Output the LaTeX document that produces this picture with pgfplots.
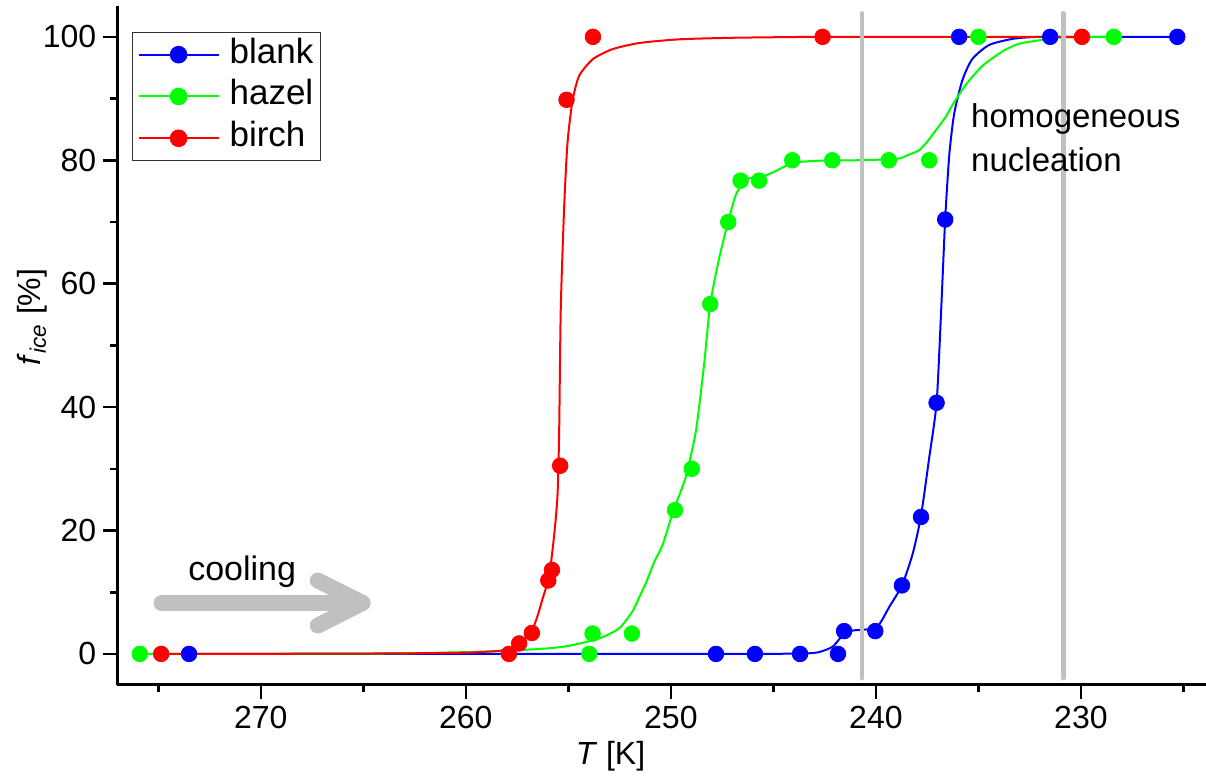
\documentclass[border=0pt]{standalone}
\usepackage{fontspec}
\setmainfont{Liberation Sans}
\usepackage{pgfplots}
\pgfplotsset{compat=1.18}
\usetikzlibrary{calc}

\definecolor{hz}{RGB}{0,255,0}
\definecolor{gl}{RGB}{192,192,192}

% measured points
\pgfplotstableread{
T f
273.5 0
247.8 0
245.9 0
243.7 0
241.85 0
241.55 3.7
240.03 3.7
238.73 11.1
237.80 22.2
237.04 40.7
236.62 70.4
235.94 100
231.5 100
225.3 100
}\blankpts
\pgfplotstableread{
T f
275.9 0
253.98 0
253.82 3.3
251.9 3.3
249.8 23.3
248.98 30
248.08 56.7
247.2 70
246.6 76.7
245.7 76.7
244.08 80
242.13 80
239.37 80
237.4 80
235.0 100
228.4 100
}\hazelpts
\pgfplotstableread{
T f
274.86 0
257.9 0
257.4 1.7
256.78 3.4
255.98 11.9
255.8 13.6
255.4 30.5
255.09 89.8
253.8 100
242.6 100
229.95 100
}\birchpts

% fitted curves
\pgfplotstableread{
T f
273.5 0
250 0
245 0.02
244 0.05
243.3 0.1
242.76 0.3
242.1 1.2
241.55 3.3
241.1 3.8
240.68 3.9
240.0 4.2
239.7 5.5
239.35 7.6
238.73 11.1
238.2 16.3
237.8 22.4
237.4 31.8
237.04 40.7
236.83 54.7
236.62 70.5
236.42 80.9
236.18 87.6
235.78 93.0
235.3 96.4
234.47 98.7
233.3 99.7
232.4 99.95
231.5 100
225.3 100
}\blankfit
\pgfplotstableread{
T f
275.9 0
265 0.05
262 0.15
260 0.3
258.4 0.45
257.7 0.55
256 0.9
255 1.3
253.8 2.2
253.2 2.9
252.5 4.2
251.87 6.9
251.5 9.5
251.2 11.6
250.8 15
250.4 17.7
249.9 23.0
249.5 26.5
249.24 29.1
248.78 36.1
248.38 46.9
248.08 56.7
247.64 64.2
247.2 70.1
246.83 74.4
246.34 76.9
245.7 77.2
245.04 78.0
244.1 79.5
243 79.9
241 80.0
239.8 80.1
238.86 80.3
238.4 80.9
237.9 81.6
237.5 83
237.07 84.9
236.6 87
236.26 89.0
235.6 92.3
234.8 95.3
233.8 97.7
233.0 98.9
231.7 99.6
230.9 99.9
228.4 100
}\hazelfit
\pgfplotstableread{
T f
274.86 0
268 0.03
265 0.06
262 0.12
260 0.2
259.35 0.3
258.37 0.5
257.73 1.1
257.16 2.2
256.75 4.0
256.5 6.2
256.26 8.9
255.94 12.6
255.7 19.0
255.53 25.7
255.45 35.8
255.37 56.0
255.2 72.8
255.04 82.9
254.8 89.6
254.47 93.7
253.8 96.4
252.85 98.0
251.55 99.0
249.6 99.6
247 99.85
244 99.97
242.6 100
229.95 100
}\birchfit

\begin{document}
\begin{tikzpicture}
\begin{axis}[
  name=ax,
  scale only axis, width=544.3pt, height=339.35pt,
  x dir=reverse, xmin=223.9, xmax=277, ymin=-5, ymax=105,
  axis x line*=bottom, axis y line*=left,
  axis line style={line width=1.3pt, -},
  tick align=outside,
  major tick length=7pt, minor tick length=3.5pt,
  tick style={black, line width=1.3pt},
  xtick={230,240,250,260,270}, minor xtick={225,235,245,255,265,275},
  ytick={0,20,40,60,80,100}, minor ytick={10,30,50,70,90},
  tick label style={font=\fontsize{16}{19}\selectfont},
  /pgf/number format/assume math mode=true,
  xlabel={\textit{T} [K]},
  ylabel={\textit{f}\textsubscript{\itshape ice} [\%]},
  label style={font=\fontsize{16}{19}\selectfont},
  xlabel style={at={(axis description cs:0.453,0)}, anchor=center, yshift=-35.7pt},
  ylabel style={at={(axis description cs:-0.078,0.542)}, anchor=center, rotate=0},
  legend image code/.code={%
    \draw[mark repeat=2,mark phase=2] plot coordinates {(0pt,0pt) (20pt,0pt) (40pt,0pt)};
    \path (44pt,0pt);},
  legend cell align=left,
  legend style={at={(axis description cs:0.0135,0.98)}, anchor=north west,
    yshift=-6pt,
    draw=black!80, line width=0.6pt, font=\fontsize{17.5}{20}\selectfont, inner sep=2.5pt, row sep=3.4pt,
    nodes={inner sep=1pt, text height=12pt, text depth=3.5pt}},
  mark size=3.9pt,
  fit/.style={line width=1pt, smooth, tension=0.4, forget plot},
]
\addlegendimage{blue, line width=1pt, mark=*}
\addlegendentry{blank}
\addlegendimage{hz, line width=1pt, mark=*}
\addlegendentry{hazel}
\addlegendimage{red, line width=1pt, mark=*}
\addlegendentry{birch}

\addplot[blue, fit] table {\blankfit};
\addplot[blue, only marks, mark=*, forget plot] table {\blankpts};
\addplot[hz, fit] table {\hazelfit};
\addplot[hz, only marks, mark=*, forget plot] table {\hazelpts};
\addplot[red, fit] table {\birchfit};
\addplot[red, only marks, mark=*, forget plot] table {\birchpts};

\addplot[gl, line width=2.4pt, line cap=round, forget plot] coordinates {(240.68,-3.9) (240.68,103.8)};
\addplot[gl, line width=2.4pt, line cap=round, forget plot] coordinates {(230.86,-3.9) (230.86,103.8)};

\draw[gl, line width=8pt, line cap=round, line join=round] (axis cs:274.84,8.27) -- (axis cs:265.04,8.27);
\draw[gl, line width=8pt, line cap=round, line join=round] (axis cs:267.22,11.9) -- (axis cs:265.04,8.27) -- (axis cs:267.22,4.6);
\node[font=\fontsize{17}{20}\selectfont, anchor=center] at (axis cs:270.91,13.3) {cooling};
\node[font=\fontsize{16.5}{22}\selectfont, align=left, anchor=west, inner sep=0pt] at (axis cs:235.37,83.6) {homogeneous\\nucleation};
\end{axis}
\pgfresetboundingbox
\path[use as bounding box] ($(ax.south west)+(-58.65pt,-46.65pt)$) rectangle ($(ax.north east)+(0pt,3pt)$);
\end{tikzpicture}
\end{document}
